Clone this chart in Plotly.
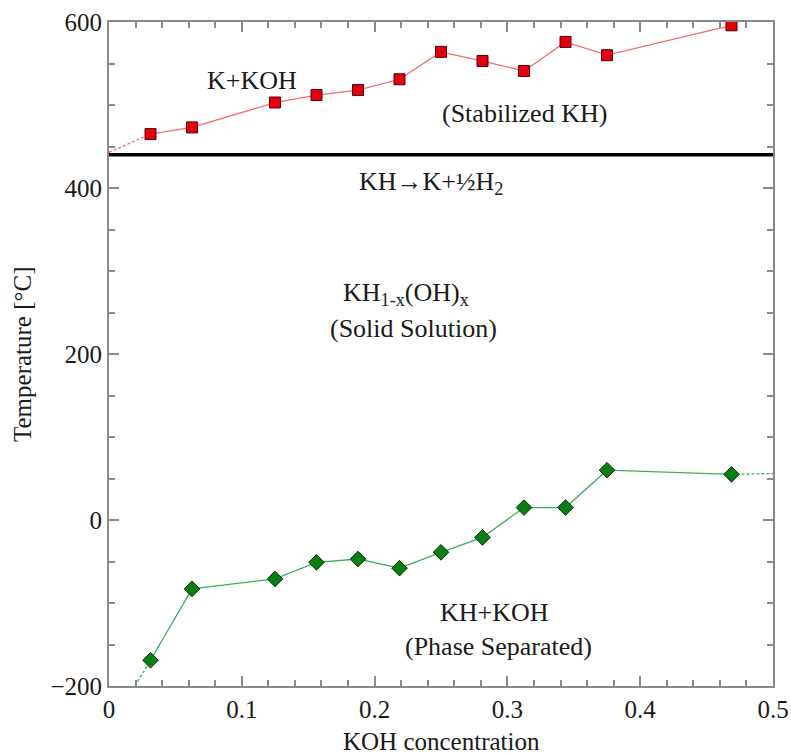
import plotly.graph_objects as go

# KOH concentration (x) values shared by both series
koh_conc = [0.03125, 0.0625, 0.125, 0.15625, 0.1875, 0.21875, 0.25,
            0.28125, 0.3125, 0.34375, 0.375, 0.46875]

# Upper boundary: decomposition of stabilized KH (°C)
stabilized_T = [465, 473, 503, 512, 518, 531, 564, 553, 541, 576, 560, 596]

# Lower boundary: phase separation (°C)
separation_T = [-169, -83, -71, -51, -47, -58, -39, -21, 15, 15, 60, 55]

# Dashed extrapolations
red_ext_x = [0.0, 0.03125]
red_ext_y = [443, 465]
green_ext_left_x = [0.0196, 0.03125]
green_ext_left_y = [-200, -169]
green_ext_right_x = [0.46875, 0.5]
green_ext_right_y = [55, 56]

# KH -> K + 1/2 H2 decomposition temperature
kh_decomp_T = 440

x_ticks = [0, 0.1, 0.2, 0.3, 0.4, 0.5]
x_ticklabels = ["0", "0.1", "0.2", "0.3", "0.4", "0.5"]
y_ticks = [-200, 0, 200, 400, 600]
y_ticklabels = ["\u2212200", "0", "200", "400", "600"]

FONT = "Liberation Serif, Times New Roman, serif"
TXT = "#1a1a1a"
RED_LINE = "#f26b6b"
RED_FILL = "#e3000f"
GREEN_LINE = "#3fae5a"
GREEN_FILL = "#0b7d12"

fig = go.Figure()

# horizontal KH decomposition line
fig.add_trace(go.Scatter(x=[0, 0.5], y=[kh_decomp_T, kh_decomp_T], mode="lines",
                         line=dict(color="black", width=3.5), hoverinfo="skip"))

# dashed extensions
fig.add_trace(go.Scatter(x=red_ext_x, y=red_ext_y, mode="lines",
                         line=dict(color=RED_LINE, width=1.3, dash="3px,2px")))
fig.add_trace(go.Scatter(x=green_ext_left_x, y=green_ext_left_y, mode="lines",
                         line=dict(color=GREEN_LINE, width=1.3, dash="3px,2px")))
fig.add_trace(go.Scatter(x=green_ext_right_x, y=green_ext_right_y, mode="lines",
                         line=dict(color=GREEN_LINE, width=1.3, dash="3px,2px")))

fig.add_trace(go.Scatter(x=koh_conc, y=stabilized_T, mode="lines+markers",
                         line=dict(color=RED_LINE, width=1.3),
                         marker=dict(symbol="square", size=11, color=RED_FILL,
                                     line=dict(color="#5a0000", width=1))))
fig.add_trace(go.Scatter(x=koh_conc, y=separation_T, mode="lines+markers",
                         line=dict(color=GREEN_LINE, width=1.3),
                         marker=dict(symbol="diamond", size=12, color=GREEN_FILL,
                                     line=dict(color="#033303", width=1))))

ann_font = dict(family=FONT, size=26, color=TXT)
annotations = [
    dict(x=0.1077, y=529, text="K+KOH"),
    dict(x=0.3125, y=490, text="(Stabilized KH)"),
    dict(x=0.2425, y=406, text="KH\u2192K+\u00bdH<sub>2</sub>"),
    dict(x=0.2235, y=272, text="KH<sub>1-x</sub>(OH)<sub>x</sub>"),
    dict(x=0.2295, y=231, text="(Solid Solution)"),
    dict(x=0.290, y=-111, text="KH+KOH"),
    dict(x=0.293, y=-153, text="(Phase Separated)"),
]
for a in annotations:
    fig.add_annotation(x=a["x"], y=a["y"], text=a["text"], showarrow=False,
                       font=ann_font, xanchor="center", yanchor="middle")

# axis titles
fig.add_annotation(x=0.5, y=0, xref="paper", yref="paper", yshift=-55,
                   text="KOH concentration", showarrow=False,
                   font=dict(family=FONT, size=25, color=TXT),
                   xanchor="center", yanchor="middle")
fig.add_annotation(x=0, y=0.5, xref="paper", yref="paper", xshift=-87,
                   text="Temperature [°C]", showarrow=False, textangle=-90,
                   font=dict(family=FONT, size=25, color=TXT),
                   xanchor="center", yanchor="middle")

axis_common = dict(
    showgrid=False, zeroline=False, showline=True, linecolor="#8a8a8a",
    linewidth=2, mirror="ticks", ticks="inside", ticklen=10, tickwidth=1.5,
    tickcolor="#8a8a8a", tickfont=dict(family=FONT, size=25, color=TXT),
    automargin=False,
)

fig.update_xaxes(
    range=[0, 0.5], tickvals=x_ticks, ticktext=x_ticklabels,
    minor=dict(dtick=0.02, ticks="inside", ticklen=6, tickcolor="#8a8a8a", tickwidth=1.5),
    **axis_common,
)
fig.update_yaxes(
    range=[-200, 600], tickvals=y_ticks, ticktext=y_ticklabels,
    minor=dict(dtick=50, ticks="inside", ticklen=6, tickcolor="#8a8a8a", tickwidth=1.5),
    **axis_common,
)

fig.update_layout(
    width=791, height=755,
    margin=dict(l=109, r=18, t=22, b=69),
    paper_bgcolor="white", plot_bgcolor="white",
    showlegend=False,
)

fig.write_html("out.html",
               config={"displayModeBar": False},
               post_script="document.body.style.margin='0px';"
                           "document.body.style.overflow='hidden';")
